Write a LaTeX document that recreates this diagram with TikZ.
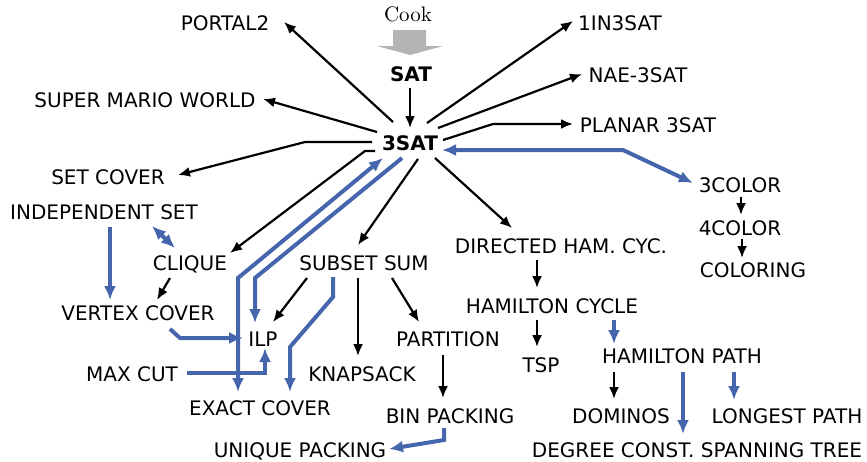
\documentclass[tikz,border=0pt]{standalone}
\usepackage{fontspec}
\newfontfamily\labfont{DejaVu Sans}
\usetikzlibrary{arrows.meta,calc}
\definecolor{redblue}{RGB}{69,101,172}
\definecolor{cookgray}{RGB}{180,180,180}
\tikzset{
  lab/.style={inner sep=0pt, text height=7.3pt, text depth=0pt, font=\labfont\fontsize{10}{12}\selectfont},
  blab/.style={lab, font=\labfont\bfseries\fontsize{10}{12}\selectfont},
  red/.style={line width=1.1pt, -{Latex[length=6pt,width=5pt]}},
  blu/.style={line width=2pt, draw=redblue, -{Latex[length=7pt,width=6pt]}},
  blu2/.style={line width=2pt, draw=redblue, {Latex[length=7pt,width=6pt]}-{Latex[length=7pt,width=6pt]}},
}
\begin{document}
\begin{tikzpicture}[x=0.5pt,y=-0.5pt]
\useasboundingbox (0,0) rectangle (867,461);
% nodes
\node[inner sep=0pt, font=\fontsize{10.5}{12}\selectfont, text height=7pt, text depth=0pt] (cook) at (408,14) {Cook};
\fill[cookgray] (393,30) -- (426,30) -- (426,46) -- (443,46) -- (410,55) -- (377,46) -- (393,46) -- cycle;
\node[blab] (sat) at (411,74) {SAT};
\node[blab] (s3) at (410,143) {3SAT};
\node[lab] (portal) at (225,23) {PORTAL2};
\node[lab] (mario) at (145,100) {SUPER MARIO WORLD};
\node[lab] (setcover) at (108,177) {SET COVER};
\node[lab] (indep) at (104,212) {INDEPENDENT SET};
\node[lab] (clique) at (190,263) {CLIQUE};
\node[lab] (vc) at (138,313) {VERTEX COVER};
\node[lab] (ilp) at (263,339) {ILP};
\node[lab] (maxcut) at (132,374) {MAX CUT};
\node[lab] (exact) at (260,408) {EXACT COVER};
\node[lab] (unique) at (300,450) {UNIQUE PACKING};
\node[lab] (subset) at (364,263) {SUBSET SUM};
\node[lab] (knap) at (362,374) {KNAPSACK};
\node[lab] (part) at (448,339) {PARTITION};
\node[lab] (bin) at (450,416) {BIN PACKING};
\node[lab] (dham) at (561,246) {DIRECTED HAM. CYC.};
\node[lab] (hcyc) at (552,306) {HAMILTON CYCLE};
\node[lab] (tsp) at (541,365) {TSP};
\node[lab] (hpath) at (682,356) {HAMILTON PATH};
\node[lab] (dom) at (621,416) {DOMINOS};
\node[lab] (longest) at (787,416) {LONGEST PATH};
\node[lab] (deg) at (697,450) {DEGREE CONST. SPANNING TREE};
\node[lab] (one) at (620,23) {1IN3SAT};
\node[lab] (nae) at (638,75) {NAE-3SAT};
\node[lab] (planar) at (648,125) {PLANAR 3SAT};
\node[lab] (col3) at (740,185) {3COLOR};
\node[lab] (col4) at (740,228) {4COLOR};
\node[lab] (coloring) at (753,270) {COLORING};
% black connectors
\draw[red] ($(sat)+(-1,14)$) -- ($(s3)+(0,-15)$);
\draw[red] ($(s3)+(-17,-21)$) -- ($(portal)+(59,-1)$);
\draw[red] ($(s3)+(-33,-11)$) -- ($(mario)+(118,-1)$);
\draw[red] ($(s3)+(-38,-1)$) -- (305,142) -- ($(setcover)+(70,-2)$);
\draw[red] ($(s3)+(-35,8)$) -- (365,151) -- ($(clique)+(40,-10)$);
\draw[red] ($(s3)+(8,16)$) -- ($(subset)+(-6,-18)$);
\draw[red] ($(s3)+(17,-20)$) -- ($(one)+(-47,-2)$);
\draw[red] ($(s3)+(28,-15)$) -- ($(nae)+(-56,-1)$);
\draw[red] ($(s3)+(33,-3)$) -- (493,124) -- ($(planar)+(-75,-1)$);
\draw[red] ($(s3)+(25,15)$) -- ($(dham)+(-49,-18)$);
\draw[red] ($(col3)+(1,12)$) -- ($(col4)+(1,-13)$);
\draw[red] ($(col4)+(2,11)$) -- ($(coloring)+(-11,-12)$);
\draw[red] ($(dham)+(-24,14)$) -- ($(hcyc)+(-15,-18)$);
\draw[red] ($(hcyc)+(-15,14)$) -- ($(tsp)+(-4,-18)$);
\draw[red] ($(hpath)+(-68,16)$) -- ($(dom)+(-7,-17)$);
\draw[red] ($(part)+(-5,16)$) -- ($(bin)+(-7,-18)$);
\draw[red] ($(subset)+(28,15)$) -- ($(part)+(-29,-17)$);
\draw[red] ($(subset)+(-6,15)$) -- ($(knap)+(-4,-18)$);
\draw[red] ($(subset)+(-57,15)$) -- ($(ilp)+(10,-17)$);
\draw[red] ($(clique)+(-20,15)$) -- ($(vc)+(19,-13)$);
% blue connectors
\draw[blu2] ($(s3)+(32,7)$) -- (623,150) -- ($(col3)+(-47,-2)$);
\draw[blu] ($(hcyc)+(62,14)$) -- ($(hpath)+(-68,-12)$);
\draw[blu] ($(hpath)+(1,16)$) -- ($(deg)+(-14,-16)$);
\draw[blu] ($(hpath)+(52,16)$) -- ($(longest)+(-53,-16)$);
\draw[blu] ($(bin)+(-6,12)$) -- (444,440) -- ($(unique)+(89,-1)$);
\draw[blu] ($(subset)+(-31,14)$) -- (333,297) -- (290,347) -- ($(exact)+(30,-16)$);
\draw[blu] ($(s3)+(-8,15)$) -- (255,278) -- ($(ilp)+(-8,-16)$);
\draw[blu2] ($(s3)+(-27,15)$) -- (238,278) -- ($(exact)+(-22,-16)$);
\draw[blu2] ($(indep)+(48,14)$) -- ($(clique)+(-15,-15)$);
\draw[blu] ($(indep)+(6,15)$) -- ($(vc)+(-28,-13)$);
\draw[blu] ($(vc)+(32,16)$) -- (180,338) -- ($(ilp)+(-20,-1)$);
\draw[blu] ($(maxcut)+(55,-1)$) -- (265,373) -- ($(ilp)+(2,9)$);
\end{tikzpicture}
\end{document}
